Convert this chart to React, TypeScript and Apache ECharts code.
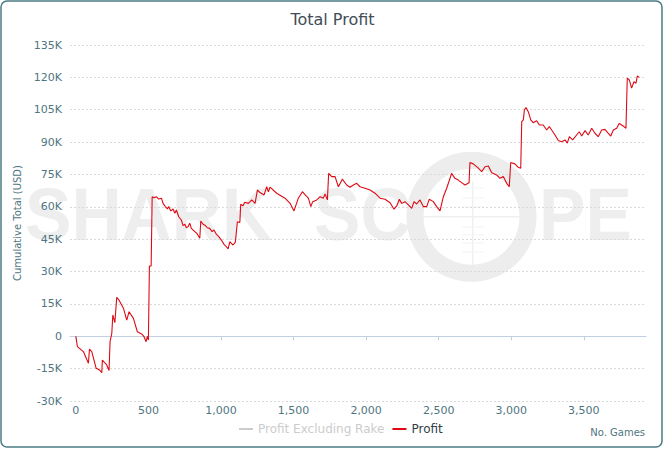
import React, { useEffect, useRef } from "react";
import * as echarts from "echarts";

const games = [
  0, 11, 52, 87, 94, 110, 140, 163, 179, 183, 213, 229, 236, 248, 255, 269, 282, 300, 328, 351,
  367, 397, 424, 454, 470, 484, 493, 500, 507, 519,
  526, 539, 555, 571, 590, 601, 617, 631, 640, 654, 670, 682, 693, 709, 727, 739, 751, 762, 773, 785,
  796, 820, 838, 854, 861, 877, 893, 906, 922, 939, 952, 968, 985, 1003, 1021, 1037, 1049, 1061, 1072, 1083,
  1099, 1113, 1130, 1136, 1152, 1164,
  1189, 1212, 1235, 1251, 1269, 1297, 1315, 1327, 1338, 1384, 1441, 1476, 1503, 1533, 1561, 1580,
  1602, 1619, 1632, 1660, 1683, 1705, 1717, 1733, 1742, 1763, 1786, 1809, 1836, 1866, 1889, 1912, 1935, 1958, 1992, 2027,
  2061, 2096, 2130, 2165, 2192, 2211, 2229, 2245, 2268, 2291, 2314, 2330, 2348, 2371, 2394, 2417, 2435, 2463, 2486, 2509,
  2532, 2555, 2589, 2612, 2635, 2658, 2681, 2709, 2715, 2738, 2773, 2796, 2819, 2842, 2865, 2899, 2922, 2945, 2968, 2986,
  2996, 3025, 3048, 3065, 3072, 3083, 3090, 3101, 3117, 3134, 3151, 3175, 3193, 3220, 3244, 3262, 3278, 3301, 3324, 3347,
  3370, 3386, 3400, 3423, 3450, 3468, 3485, 3508, 3530, 3554, 3576, 3599, 3623, 3645, 3664, 3685, 3703, 3726, 3744, 3760,
  3776, 3790, 3799, 3813, 3829, 3845, 3859, 3868, 3882,
];

const profit = [
  0, -4800, -7100, -12500, -6000, -7100, -14800, -15600, -16900, -11000, -13300, -15900, -2500, 1400, 9900, 6300, 18100, 16500, 13000, 7500,
  11400, 8300, 2100, 1100, -200, -2500, 0, -1700, 32600, 32600,
  64700, 64200, 64700, 63600, 64000, 61600, 60100, 59000, 60100, 58100, 59000, 57000, 58500, 55400, 53900, 51300, 51900, 50300, 50800, 52400,
  50000, 48500, 47300, 45400, 53400, 51900, 51300, 50300, 50000, 48500, 49300, 47300, 46200, 44600, 42600, 41500, 40500, 43800, 43100, 42300,
  43600, 53100, 52700, 61200, 60500, 62100,
  61600, 63200, 61600, 67800, 66600, 65500, 69300, 67000, 69100, 66300, 64000, 61600, 58100, 64000, 67000, 65500,
  64000, 60100, 62400, 63200, 64700, 64000, 66000, 63200, 75500, 74000, 74000, 69300, 72800, 70100, 69100, 70100, 70900, 69300, 68600, 67800,
  66300, 64000, 63500, 61900, 58900, 60400, 63500, 61600, 62400, 60900, 59300, 62400, 61300, 63200, 60100, 60100, 63500, 62400, 60100, 58100,
  64700, 68600, 75500, 73200, 72400, 71200, 70100, 71200, 80500, 79900, 77900, 76300, 78600, 78900, 75800, 74800, 73200, 74000, 70900, 69300,
  80500, 79900, 78300, 77900, 99500, 100300, 104900, 106000, 104100, 100300, 99000, 99900, 97900, 97900, 95600, 97200, 95600, 93300, 90700, 90200,
  91000, 89500, 92500, 91000, 93300, 94800, 92800, 95300, 93300, 96400, 94100, 92500, 95600, 95900, 94400, 92800, 95600, 96400, 98700, 97900,
  97200, 96400, 119600, 118800, 115000, 118000, 117300, 120600, 120000,
];

const xTickValues = [0, 500, 1000, 1500, 2000, 2500, 3000, 3500];
const seriesNames = ["Profit Excluding Rake", "Profit"];

const labelColor = "#4f7580";
const FONT = "DejaVu Sans";

function fmtK(v: number): string {
  if (v === 0) return "0";
  return v / 1000 + "K";
}

function fmtThousands(v: number): string {
  return String(v).replace(/\B(?=(\d{3})+(?!\d))/g, ",");
}

export default function App() {
  const ref = useRef<HTMLDivElement>(null);

  useEffect(() => {
    document.body.style.margin = "0";
    if (!ref.current) return;
    const chart = echarts.init(ref.current, undefined, { renderer: "svg" });
    const wmFill = "#eeeeee";
    const wmFont = "bold 74px 'Liberation Sans', Arial, sans-serif";
    const crossTicks = [188, 198, 207, 227, 235, 243, 252];

    chart.setOption({
      animation: false,
      textStyle: { fontFamily: FONT },
      title: {
        text: "Total Profit",
        left: "center",
        top: 6,
        textStyle: { fontFamily: FONT, fontSize: 16, fontWeight: "normal", color: "#434c57" },
      },
      legend: {
        data: seriesNames,
        left: 234,
        top: 418,
        icon: "rect",
        itemWidth: 14,
        itemHeight: 2,
        itemGap: 8,
        selected: { "Profit Excluding Rake": false },
        inactiveColor: "#cccccc",
        textStyle: { fontFamily: FONT, fontSize: 12, color: "#333e48" },
      },
      grid: { left: 70, right: 19, top: 45, bottom: 49 },
      xAxis: {
        type: "value",
        min: -40,
        max: 3928,
        axisLine: { show: true, lineStyle: { color: "#c0d0e0", width: 1 } },
        axisTick: { show: true, length: 4, lineStyle: { color: "#c0d0e0" }, customValues: xTickValues },
        axisLabel: {
          customValues: xTickValues,
          formatter: (v: number) => fmtThousands(v),
          color: labelColor,
          fontSize: 11,
          margin: 4,
          fontFamily: FONT,
        },
        splitLine: { show: false },
      },
      yAxis: {
        type: "value",
        min: -30000,
        max: 135000,
        interval: 15000,
        name: "Cumulative Total (USD)",
        nameLocation: "middle",
        nameGap: 48,
        nameTextStyle: { color: labelColor, fontSize: 10, fontFamily: FONT },
        axisLine: { show: false },
        axisTick: { show: false },
        axisLabel: { formatter: (v: number) => fmtK(v), color: labelColor, fontSize: 11, margin: 8, fontFamily: FONT },
        splitLine: { show: true, lineStyle: { color: "#d9d9d9", type: [2, 2], width: 1 } },
      },
      graphic: [
        {
          type: "rect",
          shape: { x: 1, y: 1, width: 661, height: 446, r: 6 },
          style: { fill: "none", stroke: "#4a7b82", lineWidth: 1.5 },
          silent: true,
          z: 100,
        },
        {
          type: "text",
          x: 25,
          y: 214,
          scaleX: 0.94,
          z: -1,
          silent: true,
          style: { text: "SHARK", font: wmFont, fill: wmFill, verticalAlign: "middle", align: "left" },
        },
        {
          type: "text",
          x: 314,
          y: 214,
          scaleX: 0.94,
          z: -1,
          silent: true,
          style: { text: "SC", font: wmFont, fill: wmFill, verticalAlign: "middle", align: "left" },
        },
        {
          type: "ring",
          shape: { cx: 471.5, cy: 216.7, r: 65, r0: 48 },
          z: -1,
          silent: true,
          style: { fill: "#ededed" },
        },
        {
          type: "line",
          shape: { x1: 472.7, y1: 181.7, x2: 472.7, y2: 265 },
          z: -1,
          silent: true,
          style: { stroke: "#f0f0f0", lineWidth: 1.5 },
        },
        {
          type: "line",
          shape: { x1: 423, y1: 216.7, x2: 520, y2: 216.7 },
          z: -1,
          silent: true,
          style: { stroke: "#f0f0f0", lineWidth: 1.5 },
        },
        ...crossTicks.map((ty) => ({
          type: "line",
          shape: { x1: 462, y1: ty, x2: 484, y2: ty },
          z: -1,
          silent: true,
          style: { stroke: "#f3f3f3", lineWidth: 1 },
        })),
        {
          type: "text",
          x: 539,
          y: 214,
          scaleX: 0.94,
          z: -1,
          silent: true,
          style: { text: "PE", font: wmFont, fill: wmFill, verticalAlign: "middle", align: "left" },
        },
        {
          type: "text",
          x: 645,
          y: 432,
          silent: true,
          style: {
            text: "No. Games",
            font: `10px '${FONT}'`,
            fill: labelColor,
            align: "right",
            verticalAlign: "middle",
          },
        },
      ],
      series: [
        {
          name: "Profit Excluding Rake",
          type: "line",
          data: [],
          showSymbol: false,
          itemStyle: { color: "#aaaaaa" },
          lineStyle: { color: "#aaaaaa", width: 1 },
        },
        {
          name: "Profit",
          type: "line",
          data: games.map((g, i) => [g, profit[i]]),
          showSymbol: false,
          symbol: "none",
          itemStyle: { color: "#dd0a14" },
          lineStyle: { color: "#dd0a14", width: 1.1 },
          z: 3,
        },
      ],
    });

    return () => chart.dispose();
  }, []);

  return <div ref={ref} style={{ width: 665, height: 450 }} />;
}
